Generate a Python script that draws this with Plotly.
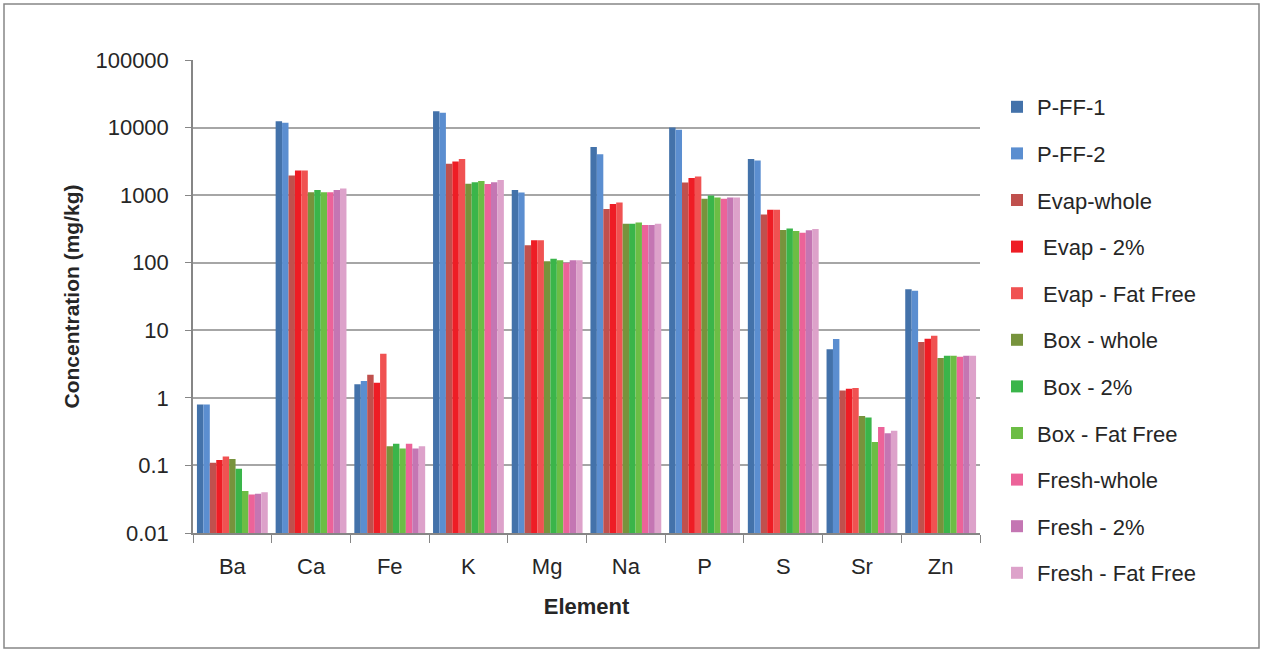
import plotly.graph_objects as go

elements = ["Ba", "Ca", "Fe", "K", "Mg", "Na", "P", "S", "Sr", "Zn"]

p_ff_1 = [0.80, 12400, 1.59, 17400, 1190, 5150, 10000, 3430, 5.25, 40.4]
p_ff_2 = [0.80, 11800, 1.78, 16600, 1095, 4030, 9300, 3250, 7.4, 38.6]
evap_whole = [0.11, 1960, 2.19, 2910, 181, 625, 1540, 515, 1.29, 6.7]
evap_2 = [0.12, 2320, 1.68, 3150, 215, 742, 1800, 608, 1.36, 7.5]
evap_ff = [0.135, 2320, 4.5, 3440, 215, 776, 1880, 608, 1.40, 8.3]
box_whole = [0.124, 1107, 0.193, 1480, 105, 377, 885, 305, 0.537, 3.9]
box_2 = [0.089, 1196, 0.209, 1550, 114, 377, 985, 320, 0.513, 4.2]
box_ff = [0.042, 1107, 0.178, 1620, 109, 395, 925, 295, 0.222, 4.2]
fresh_whole = [0.037, 1107, 0.209, 1460, 100, 360, 885, 278, 0.37, 4.05]
fresh_2 = [0.038, 1196, 0.178, 1550, 109, 360, 922, 302, 0.30, 4.2]
fresh_ff = [0.040, 1254, 0.193, 1675, 109, 377, 922, 316, 0.327, 4.2]

series_names = ["P-FF-1", "P-FF-2", "Evap-whole", " Evap - 2%", " Evap - Fat Free",
                " Box - whole", " Box - 2%", "Box - Fat Free", "Fresh-whole",
                "Fresh - 2%", "Fresh - Fat Free"]
series_values = [p_ff_1, p_ff_2, evap_whole, evap_2, evap_ff, box_whole, box_2,
                 box_ff, fresh_whole, fresh_2, fresh_ff]
colors = ["#4372AA", "#5B8ED0", "#C0504D", "#EE1D25", "#F05252", "#77933C",
          "#3AB54A", "#6CBD45", "#EC6399", "#C476B3", "#DDA2CA"]

tick_vals = [0.01, 0.1, 1, 10, 100, 1000, 10000, 100000]
tick_text = ["0.01", "0.1", "1", "10", "100", "1000", "10000", "100000"]

fig = go.Figure()
for i, (name, vals) in enumerate(zip(series_names, series_values)):
    # keep the leading space of some legend names visible
    label = "\u00a0" + name[1:] if name.startswith(" ") else name
    fig.add_trace(go.Bar(
        x=elements, y=vals, name=label,
        marker=dict(color=colors[i], line=dict(width=0)),
        legendgroup=str(i)
    ))

W, H = 1264, 652
ml, mr, mt, mb = 193, 284, 60, 119
pw, ph = W - ml - mr, H - mt - mb

fig.update_layout(
    width=W, height=H,
    margin=dict(l=ml, r=mr, t=mt, b=mb),
    paper_bgcolor="white", plot_bgcolor="white",
    barmode="group", bargap=0.1, bargroupgap=0,
    font=dict(family="Liberation Sans", size=22, color="#262626"),
    legend=dict(x=(997 - ml) / pw, y=(533 - 86) / ph, xanchor="left", yanchor="top",
                tracegroupgap=15, font=dict(size=22), itemwidth=30, maxheight=600),
    xaxis=dict(
        title=dict(text="<b>Element</b>", font=dict(size=22), standoff=20),
        showline=True, linecolor="#868686", linewidth=1.5,
        ticks="outside", tickson="boundaries", ticklen=8, tickcolor="#868686",
        tickfont=dict(size=22), ticklabelstandoff=13, showgrid=False
    ),
    yaxis=dict(
        type="log", range=[-2, 5],
        tickvals=tick_vals, ticktext=tick_text,
        title=dict(text="<b>Concentration (mg/kg)</b>", font=dict(size=21), standoff=10),
        showline=True, linecolor="#868686", linewidth=1.5,
        ticks="outside", ticklen=6, tickcolor="#868686",
        showgrid=True, gridcolor="#A6A6A6", gridwidth=1.5,
        tickfont=dict(size=22), ticklabelstandoff=12, zeroline=False
    ),
    shapes=[dict(
        type="rect", xref="paper", yref="paper",
        x0=(4 - ml) / pw, x1=(1259 - ml) / pw,
        y0=(533 - 648) / ph, y1=(533 - 4) / ph,
        line=dict(color="#868686", width=1.5)
    )]
)

fig.write_html("out.html", config={"displayModeBar": False},
               post_script="document.body.style.margin='0';")
